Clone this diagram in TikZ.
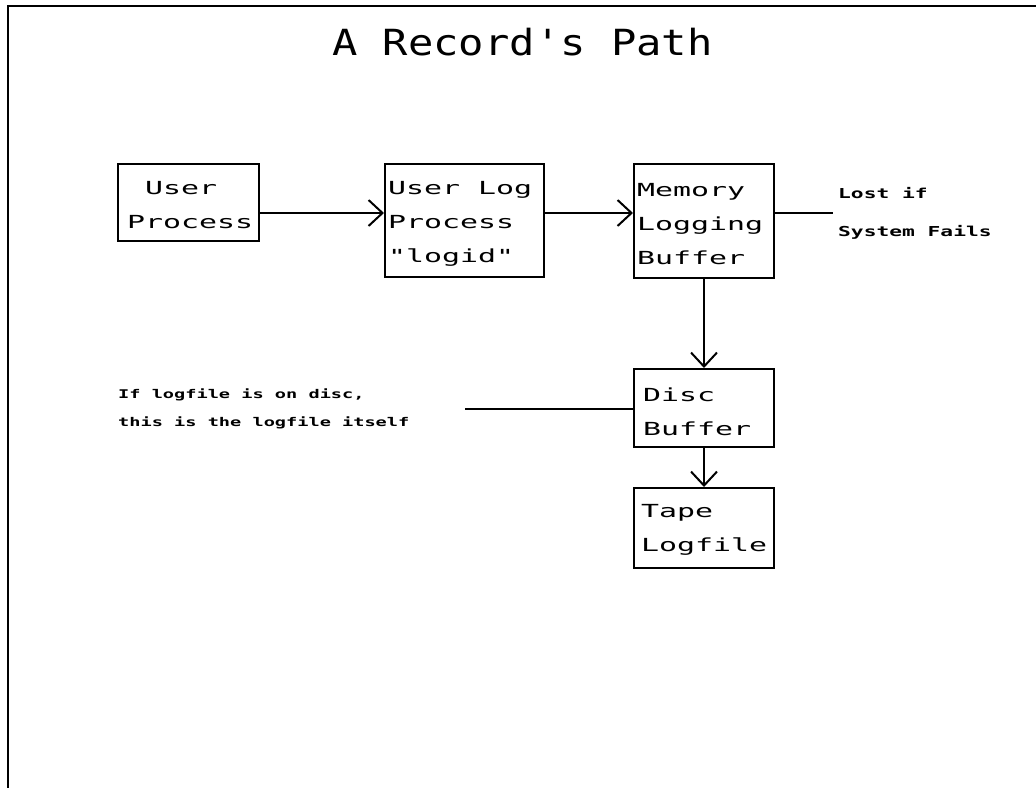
\documentclass[tikz,border=0pt]{standalone}
\usepackage{fontspec}
\usetikzlibrary{arrows.meta,calc}
\newfontfamily\plotfont[FakeStretch=1.66]{DejaVu Sans Mono}
\newfontfamily\titlefont[FakeStretch=1.17]{DejaVu Sans Mono}
\newfontfamily\notefont[FakeStretch=1.55]{DejaVu Sans Mono}
\tikzset{
  boxnode/.style={draw, line width=2pt, inner sep=0pt, anchor=north west},
  boxtext/.style={inner sep=0pt, anchor=north west, align=left, font=\plotfont\fontsize{18}{34}\selectfont},
  notetext/.style={inner sep=0pt, anchor=north west, align=left},
  arr/.style={line width=2pt, -{Straight Barb[length=14pt,width=26pt,line width=2pt]}},
  plain/.style={line width=2pt},
  frame/.style={line width=2.5pt}
}
\begin{document}
\begin{tikzpicture}[x=1pt,y=-1pt]
\useasboundingbox (0,0) rectangle (1036,788);
% frame
\coordinate (ftl) at (8,6);
\coordinate (ftr) at (1036,6);
\coordinate (fbl) at (8,788);
\draw[frame] (ftr) -- (ftl) -- (fbl);
% title
\node[inner sep=0pt, anchor=base west, font=\titlefont\fontsize{36}{40}\selectfont] (title) at (332,55) {A Record's Path};
% boxes
\node[boxnode, minimum width=141pt, minimum height=77pt] (user) at (117,163) {};
\node[boxnode, minimum width=159pt, minimum height=113pt] (ulog) at (384,163) {};
\node[boxnode, minimum width=140pt, minimum height=114pt] (mem) at (633,163) {};
\node[boxnode, minimum width=140pt, minimum height=78pt] (disc) at (633,368) {};
\node[boxnode, minimum width=140pt, minimum height=80pt] (tape) at (633,487) {};
% box texts
\node[boxtext] (usert) at ($(user.north west)+(10,18.5)$) {\hphantom{U}User\\Process};
\node[boxtext] (ulogt) at ($(ulog.north west)+(4,18.5)$) {User Log\\Process\\"logid"};
\node[boxtext] (memt) at ($(mem.north west)+(4,20.5)$) {Memory\\Logging\\Buffer};
\node[boxtext] (disct) at ($(disc.north west)+(10,20)$) {Disc\\Buffer};
\node[boxtext] (tapet) at ($(tape.north west)+(8,17)$) {Tape\\Logfile};
% connectors
\coordinate (row) at (0,213);
\draw[arr] (user.east |- row) -- (ulog.west |- row);
\draw[arr] (ulog.east |- row) -- (mem.west |- row);
\coordinate (lostend) at (833,213);
\draw[plain] (mem.east |- row) -- (lostend);
\draw[arr] (mem.south) -- (disc.north);
\draw[arr] (disc.south) -- (tape.north);
\coordinate (noteend) at (465,409);
\draw[plain] (disc.west |- noteend) -- (noteend);
% notes
\node[notetext, font=\notefont\bfseries\fontsize{13.7}{38}\selectfont] (lost) at (838,187) {Lost if\\System Fails};
\node[notetext, font=\notefont\bfseries\fontsize{12}{28}\selectfont] (discnote) at (118,389) {If logfile is on disc,\\this is the logfile itself};
\end{tikzpicture}
\end{document}
